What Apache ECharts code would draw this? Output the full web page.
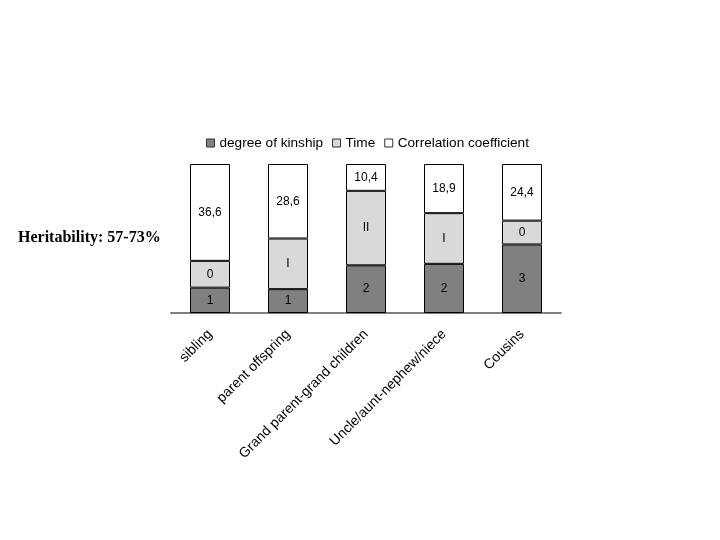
<!DOCTYPE html>
<html>
<head>
<meta charset="utf-8">
<script src="https://cdn.jsdelivr.net/npm/echarts@6/dist/echarts.min.js"></script>
<style>html,body{margin:0;padding:0;background:#fff;}#c{width:720px;height:540px;}</style>
</head>
<body>
<div id="c"></div>
<script>
const categories = ["sibling", "parent offspring", "Grand parent-grand children", "Uncle/aunt-nephew/niece", "Cousins"];
// segment shares (% of bar height)
const kinshipValues = [17, 16, 32, 33, 46];
const timeValues = [18, 34, 50, 34, 16];
const corrValues = [65, 50, 18, 33, 38];
// texts printed inside the segments
const kinshipLabels = ["1", "1", "2", "2", "3"];
const timeLabels = ["0", "I", "II", "I", "0"];
const corrLabels = ["36,6", "28,6", "10,4", "18,9", "24,4"];
const seriesNames = ["degree of kinship", "Time", "Correlation coefficient"];
const seriesColors = ["#808080", "#d9d9d9", "#ffffff"];

const chart = echarts.init(document.getElementById('c'), null, {renderer: 'canvas'});
const font = 'Liberation Sans, Arial, sans-serif';
function mk(name, data, labels, color) {
  return {
    name: name, type: 'bar', stack: 'all', data: data, barWidth: 40,
    itemStyle: {color: color, borderColor: '#000', borderWidth: 1},
    label: {show: true, position: 'inside', color: '#000', fontFamily: font, fontSize: 12,
      formatter: p => labels[p.dataIndex]},
    emphasis: {disabled: true}
  };
}
chart.setOption({
  animation: false,
  backgroundColor: '#fff',
  grid: {left: 171, right: 159, top: 164, bottom: 227, containLabel: false},
  legend: {
    left: 201, top: 131, itemWidth: 8, itemHeight: 8, itemGap: 9, icon: 'rect',
    textStyle: {fontFamily: font, fontSize: 13.6, color: '#000'},
    data: seriesNames.map((n, i) => ({name: n, itemStyle: {color: seriesColors[i], borderColor: '#333', borderWidth: 1}}))
  },
  xAxis: {
    type: 'category', data: categories,
    axisLine: {lineStyle: {color: '#808080', width: 2}},
    axisTick: {show: false},
    axisLabel: {rotate: 45, interval: 0, margin: 19, fontFamily: font, fontSize: 14, color: '#000'}
  },
  yAxis: {type: 'value', min: 0, max: 100, show: false, splitLine: {show: false}},
  series: [
    mk(seriesNames[0], kinshipValues, kinshipLabels, seriesColors[0]),
    mk(seriesNames[1], timeValues, timeLabels, seriesColors[1]),
    mk(seriesNames[2], corrValues, corrLabels, seriesColors[2])
  ],
  graphic: [{
    type: 'text', left: 18, top: 230,
    style: {text: 'Heritability: 57-73%', font: 'bold 16px "Liberation Serif", "Times New Roman", serif', fill: '#000'}
  }]
});
</script>
</body>
</html>
